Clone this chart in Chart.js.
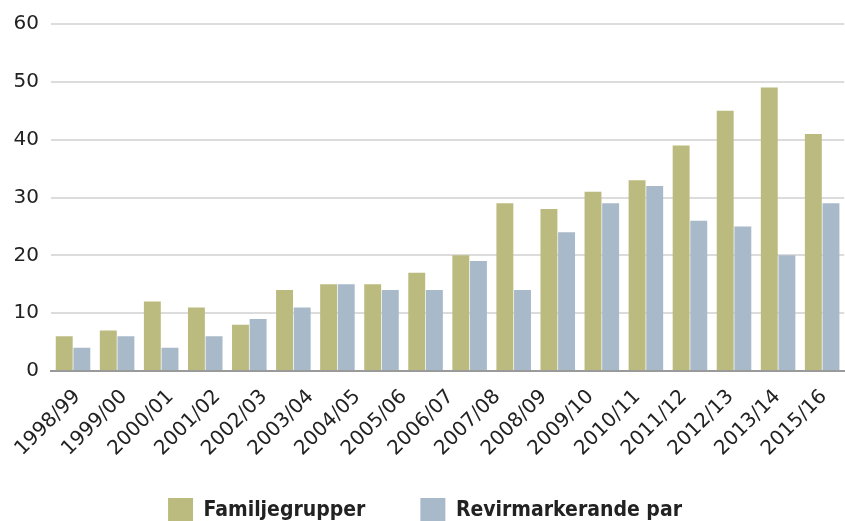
<!DOCTYPE html>
<html>
<head>
<meta charset="utf-8">
<script src="https://cdn.jsdelivr.net/npm/chart.js@4"></script>
<style>
html,body{margin:0;padding:0;background:#fff;overflow:hidden;}
#wrap{position:relative;width:850px;height:533px;}
</style>
</head>
<body>
<div id="wrap"><canvas id="c"></canvas></div>
<script>
const categories = ["1998/99","1999/00","2000/01","2001/02","2002/03","2003/04","2004/05","2005/06","2006/07","2007/08","2008/09","2009/10","2010/11","2011/12","2012/13","2013/14","2014/15","2015/16"];
const tickLabels = ["1998/99","1999/00","2000/01","2001/02","2002/03","2003/04","2004/05","2005/06","2006/07","2007/08","2008/09","2009/10","2010/11","2011/12","2012/13","2013/14","2015/16"];
const familjegrupper = [6,7,12,11,8,14,15,15,17,20,29,28,31,33,39,45,49,41];
const revirmarkerande = [4,6,4,6,9,11,15,14,14,19,14,24,29,32,26,25,20,29];

const FONT = "'DejaVu Sans', sans-serif";
const LEGEND_FONT = "'DejaVu Sans Condensed', 'Liberation Sans Narrow', sans-serif";
Chart.defaults.font.family = FONT;
Chart.defaults.color = '#222';

new Chart(document.getElementById('c'), {
  type: 'bar',
  data: {
    labels: categories,
    datasets: [
      { label: 'Familjegrupper', data: familjegrupper, backgroundColor: '#bcbb7f', xAxisID: 'x', categoryPercentage: 0.8, barPercentage: 0.96 },
      { label: 'Revirmarkerande par', data: revirmarkerande, backgroundColor: '#a8b9c9', xAxisID: 'x', categoryPercentage: 0.8, barPercentage: 0.96 }
    ]
  },
  options: {
    responsive: true,
    maintainAspectRatio: false,
    animation: false,
    layout: { padding: { top: 12, left: 0, right: 0, bottom: 0 } },
    plugins: {
      tooltip: { enabled: false },
      legend: {
        position: 'bottom',
        labels: {
          boxWidth: 25, boxHeight: 25, padding: 55,
          color: '#222',
          font: { size: 21, weight: 'bold', family: LEGEND_FONT }
        }
      }
    },
    scales: {
      x: {
        type: 'category',
        position: 'bottom',
        grid: { display: false },
        border: { display: true, color: '#9a9a9a', width: 2 },
        ticks: { display: false },
        afterFit: (s) => { s.height = 2; }
      },
      x2: {
        type: 'category',
        position: 'bottom',
        labels: tickLabels,
        offset: true,
        grid: { display: false, drawTicks: false },
        border: { display: false },
        ticks: { display: true, maxRotation: 45, minRotation: 45, autoSkip: false, padding: 12, labelOffset: 3, color: '#222', font: { size: 20, family: FONT } },
        afterFit: (s) => { s.height = 70; s._computeLabelArea = () => undefined; }
      },
      y: {
        min: 0, max: 60,
        ticks: { stepSize: 10, padding: 12, color: '#222', font: { size: 20, family: FONT } },
        grid: { color: '#dcdcdc', lineWidth: 2, drawTicks: false },
        border: { display: false },
        afterFit: (s) => { s.width = 51; }
      }
    }
  }
});
</script>
</body>
</html>
